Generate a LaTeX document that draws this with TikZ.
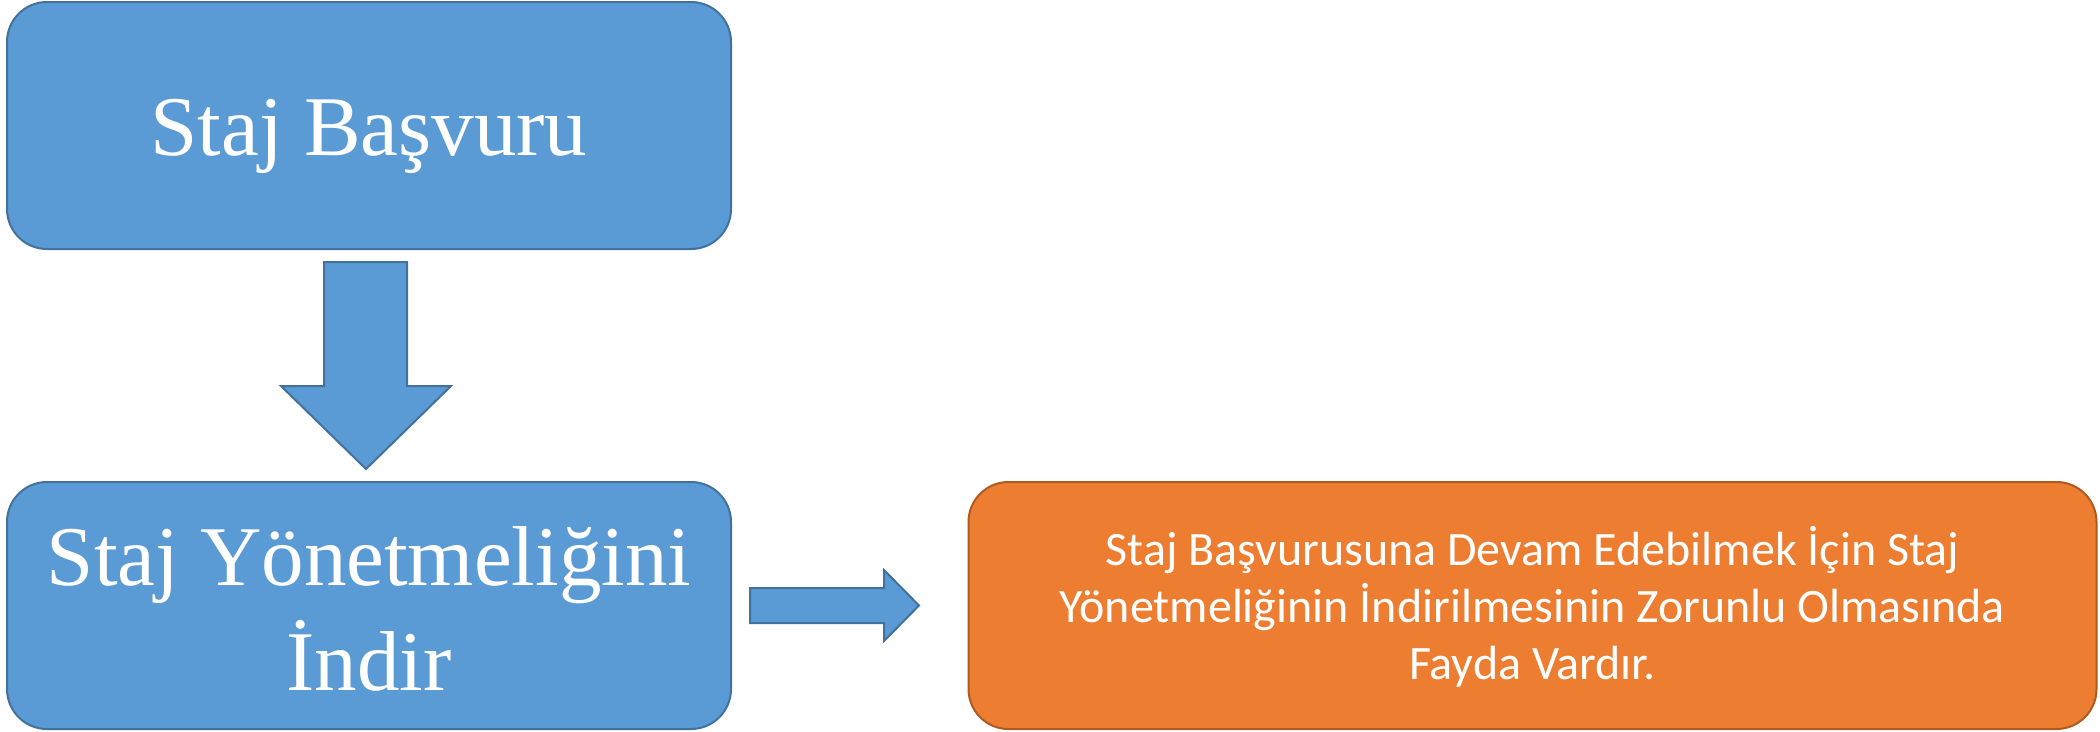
\documentclass[tikz,border=0pt]{standalone}
\usepackage{fontspec}
\setmainfont{Liberation Serif}
\newfontfamily\calibfont{Carlito}
\definecolor{bluefill}{HTML}{5B9BD5}
\definecolor{bluedraw}{HTML}{41719C}
\definecolor{orangefill}{HTML}{ED7D31}
\definecolor{orangedraw}{HTML}{AE5A21}
\tikzset{
  bluebox/.style={draw=bluedraw, fill=bluefill, line width=2pt, rounded corners=40pt, inner sep=0pt},
  orangebox/.style={draw=orangedraw, fill=orangefill, line width=2pt, rounded corners=40pt, inner sep=0pt},
  blockarrow/.style={draw=bluedraw, fill=bluefill, line width=2pt, line join=miter},
  bigtext/.style={text=white, inner sep=0pt, anchor=base, font=\fontsize{85}{104}\selectfont},
  smalltext/.style={text=white, inner sep=0pt, anchor=base, font=\calibfont\fontsize{48}{57}\selectfont}
}
\begin{document}
\begin{tikzpicture}[x=1pt,y=-1pt]
\useasboundingbox (0,0) rectangle (2100,731);
\node[bluebox, minimum width=724pt, minimum height=247pt] (basvuru) at (369,125.5) {};
\node[bluebox, minimum width=724pt, minimum height=247pt] (indir) at (369,605.5) {};
\node[orangebox, minimum width=1128pt, minimum height=247pt] (not) at (1532.5,605.5) {};
\node[bigtext] (t1) at (369,155) {Staj Başvuru};
\node[bigtext] (t2a) at (369,585) {Staj Yönetmeliğini};
\node[bigtext] (t2b) at (369,690) {İndir};
\node[smalltext] (t3a) at (1532.5,565) {Staj Başvurusuna Devam Edebilmek İçin Staj};
\node[smalltext] (t3b) at (1532.5,622) {Yönetmeliğinin İndirilmesinin Zorunlu Olmasında};
\node[smalltext] (t3c) at (1532.5,679) {Fayda Vardır.};
\draw[blockarrow] (324,262) -- (407,262) -- (407,386) -- (451,386) -- (366,469) -- (281,386) -- (324,386) -- cycle;
\draw[blockarrow] (750,588) -- (884,588) -- (884,570) -- (919,605.5) -- (884,641) -- (884,623) -- (750,623) -- cycle;
\end{tikzpicture}
\end{document}
